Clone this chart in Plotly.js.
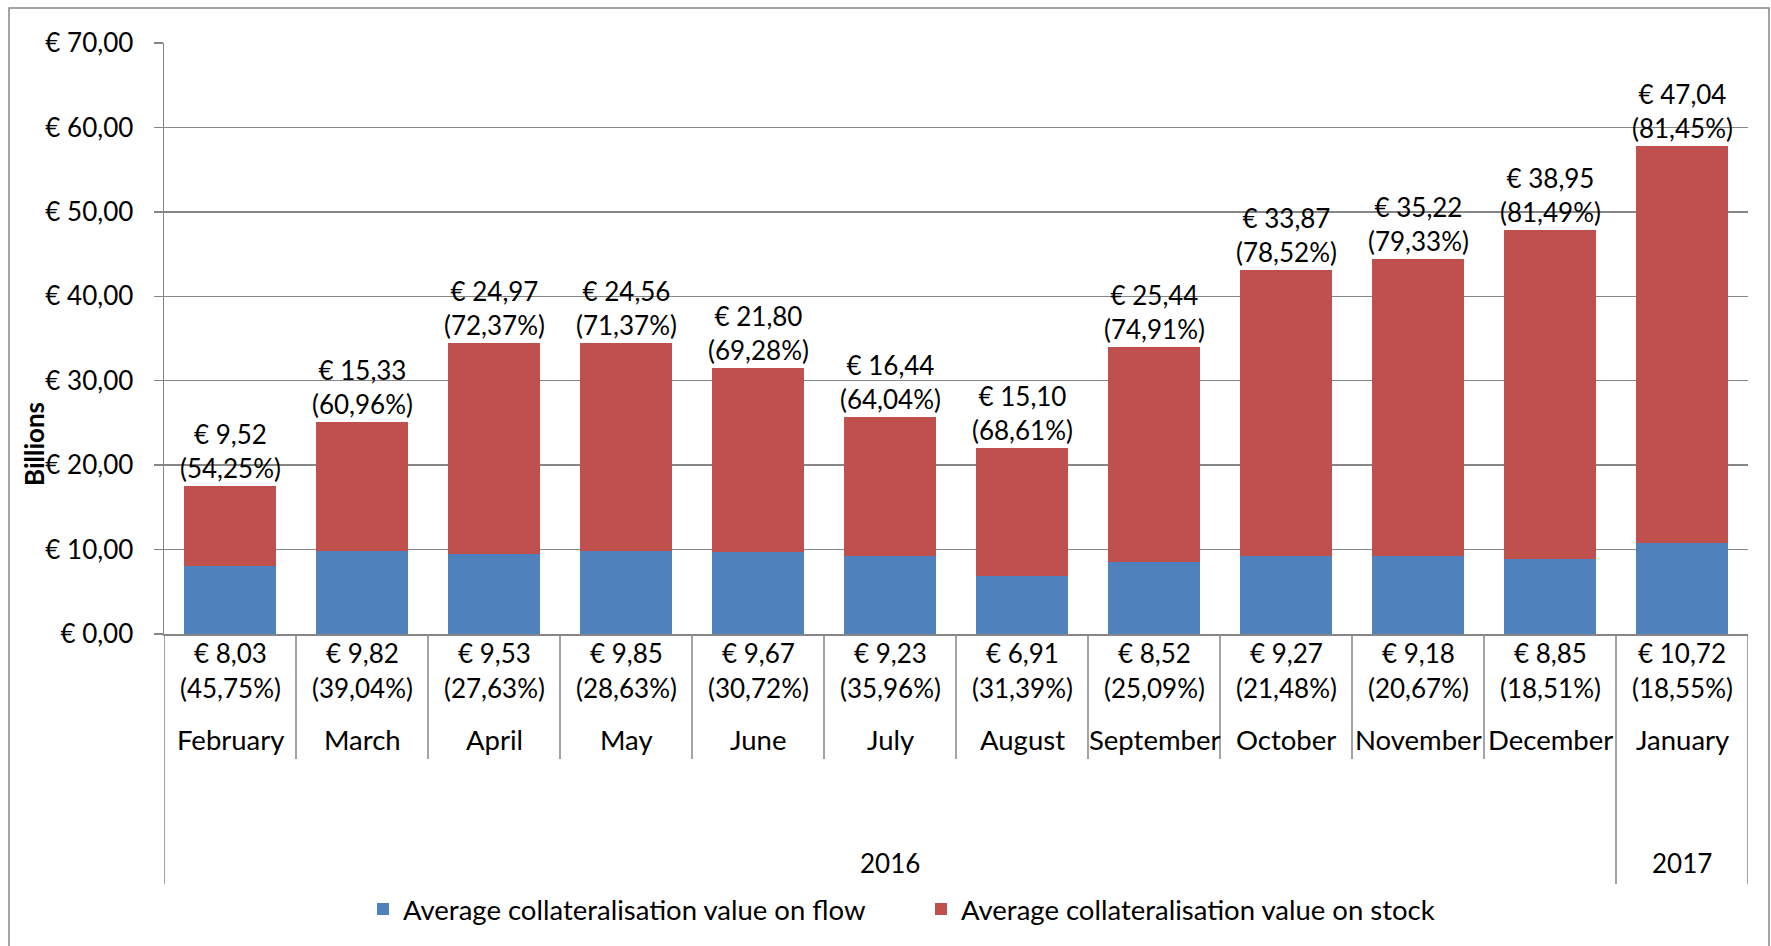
<!DOCTYPE html>
<html>
<head>
<meta charset="utf-8">
<script src="https://cdn.plot.ly/plotly-3.0.1.min.js"></script>
<style>html,body{margin:0;padding:0;background:#fff;}#chart{width:1771px;height:946px;}</style>
</head>
<body>
<div id="chart"></div>
<script>
// ---- data ----
const months = ['February','March','April','May','June','July','August','September','October','November','December','January'];
const years = ['2016','2016','2016','2016','2016','2016','2016','2016','2016','2016','2016','2017'];
const flowValues = [8.03, 9.82, 9.53, 9.85, 9.67, 9.23, 6.91, 8.52, 9.27, 9.18, 8.85, 10.72];
const stockValues = [9.52, 15.33, 24.97, 24.56, 21.80, 16.44, 15.10, 25.44, 33.87, 35.22, 38.95, 47.04];
const flowPct = [45.75, 39.04, 27.63, 28.63, 30.72, 35.96, 31.39, 25.09, 21.48, 20.67, 18.51, 18.55];
const stockPct = [54.25, 60.96, 72.37, 71.37, 69.28, 64.04, 68.61, 74.91, 78.52, 79.33, 81.49, 81.45];
const yTickValues = [0, 10, 20, 30, 40, 50, 60, 70];
const seriesNames = ['Average collateralisation value on flow', 'Average collateralisation value on stock'];
const yAxisTitle = 'Billions';

// ---- layout constants (pixels) ----
const W = 1771, H = 946;
const L = 164, R = 1748, T = 43, B = 634;
const plotH = B - T, plotW = R - L;
const py = p => (B - p) / plotH;           // pixel y -> paper y
const px = p => (p - L) / plotW;           // pixel x -> paper x

const FONT = 'Lato, "Open Sans", sans-serif';
const FS_NUM = 26;
const FS_TXT = 27.5;
const GRID = '#868686';
const eur = v => '€ ' + v.toFixed(2).replace('.', ',');
const pct = v => '(' + v.toFixed(2).replace('.', ',') + '%)';

const idx = months.map((m, i) => i);

const traces = [
  {type: 'bar', name: seriesNames[0], x: idx, y: flowValues, marker: {color: '#4F81BD'}, hoverinfo: 'none'},
  {type: 'bar', name: seriesNames[1], x: idx, y: stockValues, marker: {color: '#C0504D'}, hoverinfo: 'none'}
];

const annotations = [];
const shapes = [];

idx.forEach(i => {
  // top labels (stock)
  annotations.push({
    x: i, y: flowValues[i] + stockValues[i], xref: 'x', yref: 'y',
    text: eur(stockValues[i]) + '<br>' + pct(stockPct[i]),
    showarrow: false, yanchor: 'bottom', xanchor: 'center', yshift: 0,
    font: {family: FONT, size: FS_NUM, color: '#000'}
  });
  // bottom labels (flow)
  annotations.push({
    x: i, y: py(653), xref: 'x', yref: 'paper', text: eur(flowValues[i]),
    showarrow: false, yanchor: 'middle', xanchor: 'center',
    font: {family: FONT, size: FS_NUM, color: '#000'}
  });
  annotations.push({
    x: i, y: py(688), xref: 'x', yref: 'paper', text: pct(flowPct[i]),
    showarrow: false, yanchor: 'middle', xanchor: 'center',
    font: {family: FONT, size: FS_NUM, color: '#000'}
  });
  annotations.push({
    x: i, y: py(739), xref: 'x', yref: 'paper', text: months[i],
    showarrow: false, yanchor: 'middle', xanchor: 'center',
    font: {family: FONT, size: FS_TXT, color: '#000'}
  });
});

// year groups
const groups = [];
years.forEach((y, i) => {
  if (groups.length && groups[groups.length - 1].label === y) groups[groups.length - 1].end = i;
  else groups.push({label: y, start: i, end: i});
});
groups.forEach(g => {
  annotations.push({
    x: (g.start + g.end) / 2, y: py(863), xref: 'x', yref: 'paper', text: g.label,
    showarrow: false, yanchor: 'middle', xanchor: 'center',
    font: {family: FONT, size: FS_NUM, color: '#000'}
  });
});

// category separators
for (let b = 0; b <= months.length; b++) {
  const isGroupEdge = b === 0 || b === months.length || years[b] !== years[b - 1];
  shapes.push({
    type: 'line', xref: 'x', yref: 'paper', x0: b - 0.5, x1: b - 0.5,
    y0: 0, y1: py(isGroupEdge ? 884 : 759), line: {color: GRID, width: 1.5}
  });
}

// y axis title
annotations.push({
  x: px(34), y: py(444), xref: 'paper', yref: 'paper', text: '<b>' + yAxisTitle + '</b>',
  textangle: -90, showarrow: false, xanchor: 'center', yanchor: 'middle',
  font: {family: FONT, size: 26, color: '#000'}
});

// outer chart border (top & left visible)
shapes.push({
  type: 'rect', xref: 'paper', yref: 'paper', x0: px(9), x1: px(1769), y0: py(8), y1: py(960),
  line: {color: GRID, width: 1.5}, fillcolor: 'rgba(0,0,0,0)'
});

const layout = {
  width: W, height: H,
  margin: {l: L, r: W - R, t: T, b: H - B, pad: 0},
  paper_bgcolor: '#fff', plot_bgcolor: '#fff',
  barmode: 'stack', bargap: 0.31,
  showlegend: true,
  legend: {
    orientation: 'h', x: px(363), y: py(909), xanchor: 'left', yanchor: 'middle',
    font: {family: FONT, size: FS_TXT, color: '#000'}, traceorder: 'normal',
    entrywidth: 513, entrywidthmode: 'pixels'
  },
  xaxis: {
    range: [-0.5, months.length - 0.5], showticklabels: false, ticks: '',
    showgrid: false, zeroline: false, showline: true, linecolor: GRID, linewidth: 1.5, fixedrange: true
  },
  yaxis: {
    range: [0, 70], tickvals: yTickValues, ticktext: yTickValues.map(eur),
    ticks: 'outside', ticklen: 9, tickcolor: GRID, tickwidth: 1.5,
    showgrid: true, gridcolor: GRID, gridwidth: 1.5, zeroline: false,
    showline: true, linecolor: GRID, linewidth: 1.5,
    ticklabelstandoff: 15,
    tickfont: {family: FONT, size: FS_NUM, color: '#000'}, fixedrange: true
  },
  annotations: annotations,
  shapes: shapes
};

Plotly.newPlot('chart', traces, layout, {staticPlot: true, displayModeBar: false});
</script>
</body>
</html>
